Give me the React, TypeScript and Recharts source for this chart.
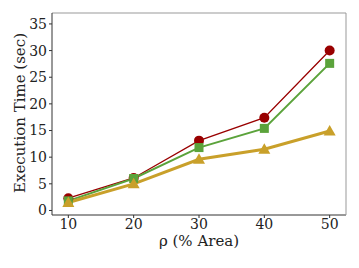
import React from 'react';
import { LineChart, Line, XAxis, YAxis, Label } from 'recharts';

const areas = [10, 20, 30, 40, 50];
const redTimes = [2.3, 6.1, 13.1, 17.4, 30.0];
const greenTimes = [1.8, 6.0, 11.8, 15.4, 27.6];
const goldTimes = [1.5, 5.0, 9.6, 11.5, 14.9];
const yTicks = [0, 5, 10, 15, 20, 25, 30, 35];

const data = areas.map((a, i) => ({
  area: a,
  red: redTimes[i],
  green: greenTimes[i],
  gold: goldTimes[i],
}));

const RED = '#990000';
const GREEN = '#5ba33b';
const GOLD = '#c9a02a';
const FONT = '"DejaVu Serif", serif';

const Circle = (props: any) => {
  const { cx, cy } = props;
  if (cx == null || cy == null) return null;
  return <circle cx={cx} cy={cy} r={5} fill={RED} />;
};

const Square = (props: any) => {
  const { cx, cy } = props;
  if (cx == null || cy == null) return null;
  return <rect x={cx - 4.5} y={cy - 4.5} width={9} height={9} fill={GREEN} />;
};

const Triangle = (props: any) => {
  const { cx, cy } = props;
  if (cx == null || cy == null) return null;
  return <polygon points={`${cx},${cy - 6} ${cx - 6},${cy + 4.5} ${cx + 6},${cy + 4.5}`} fill={GOLD} />;
};

const App: React.FC = () => {
  return (
    <div style={{ position: 'absolute', left: 0, top: 0 }}>
      <LineChart width={359} height={268} data={data} margin={{ top: 13, right: 13, left: 0, bottom: 0 }}>
        <XAxis
          dataKey="area"
          type="number"
          domain={[7.5, 52.5]}
          ticks={areas}
          height={53}
          stroke="#333"
          tickSize={3}
          tickMargin={1}
          tick={{ fill: '#222', fontSize: 14, fontFamily: FONT }}
        >
          <Label
            content={() => (
              <text x={199} y={246} textAnchor="middle" fill="#222" fontSize={15} fontFamily={FONT}>
                ρ (% Area)
              </text>
            )}
          />
        </XAxis>
        <XAxis
          xAxisId="top"
          dataKey="area"
          type="number"
          orientation="top"
          mirror
          domain={[7.5, 52.5]}
          ticks={areas}
          stroke="#999"
          tickSize={3}
          tick={false}
        />
        <YAxis
          type="number"
          domain={[-0.85, 37.05]}
          ticks={yTicks}
          width={52}
          stroke="#333"
          tickSize={3}
          tickMargin={2}
          tick={{ fill: '#222', fontSize: 14, fontFamily: FONT }}
        >
          <Label
            content={() => (
              <text x={25} y={113} transform="rotate(-90 25 113)" textAnchor="middle" fill="#222" fontSize={15} fontFamily={FONT}>
                Execution Time (sec)
              </text>
            )}
          />
        </YAxis>
        <YAxis
          yAxisId="right"
          orientation="right"
          mirror
          type="number"
          domain={[-0.85, 37.05]}
          ticks={yTicks}
          stroke="#999"
          tickSize={3}
          tick={false}
        />
        <Line dataKey="red" stroke={RED} strokeWidth={1.3} dot={<Circle />} activeDot={false} isAnimationActive={false} />
        <Line dataKey="green" stroke={GREEN} strokeWidth={2} dot={<Square />} activeDot={false} isAnimationActive={false} />
        <Line dataKey="gold" stroke={GOLD} strokeWidth={3} dot={<Triangle />} activeDot={false} isAnimationActive={false} />
      </LineChart>
    </div>
  );
};

export default App;
